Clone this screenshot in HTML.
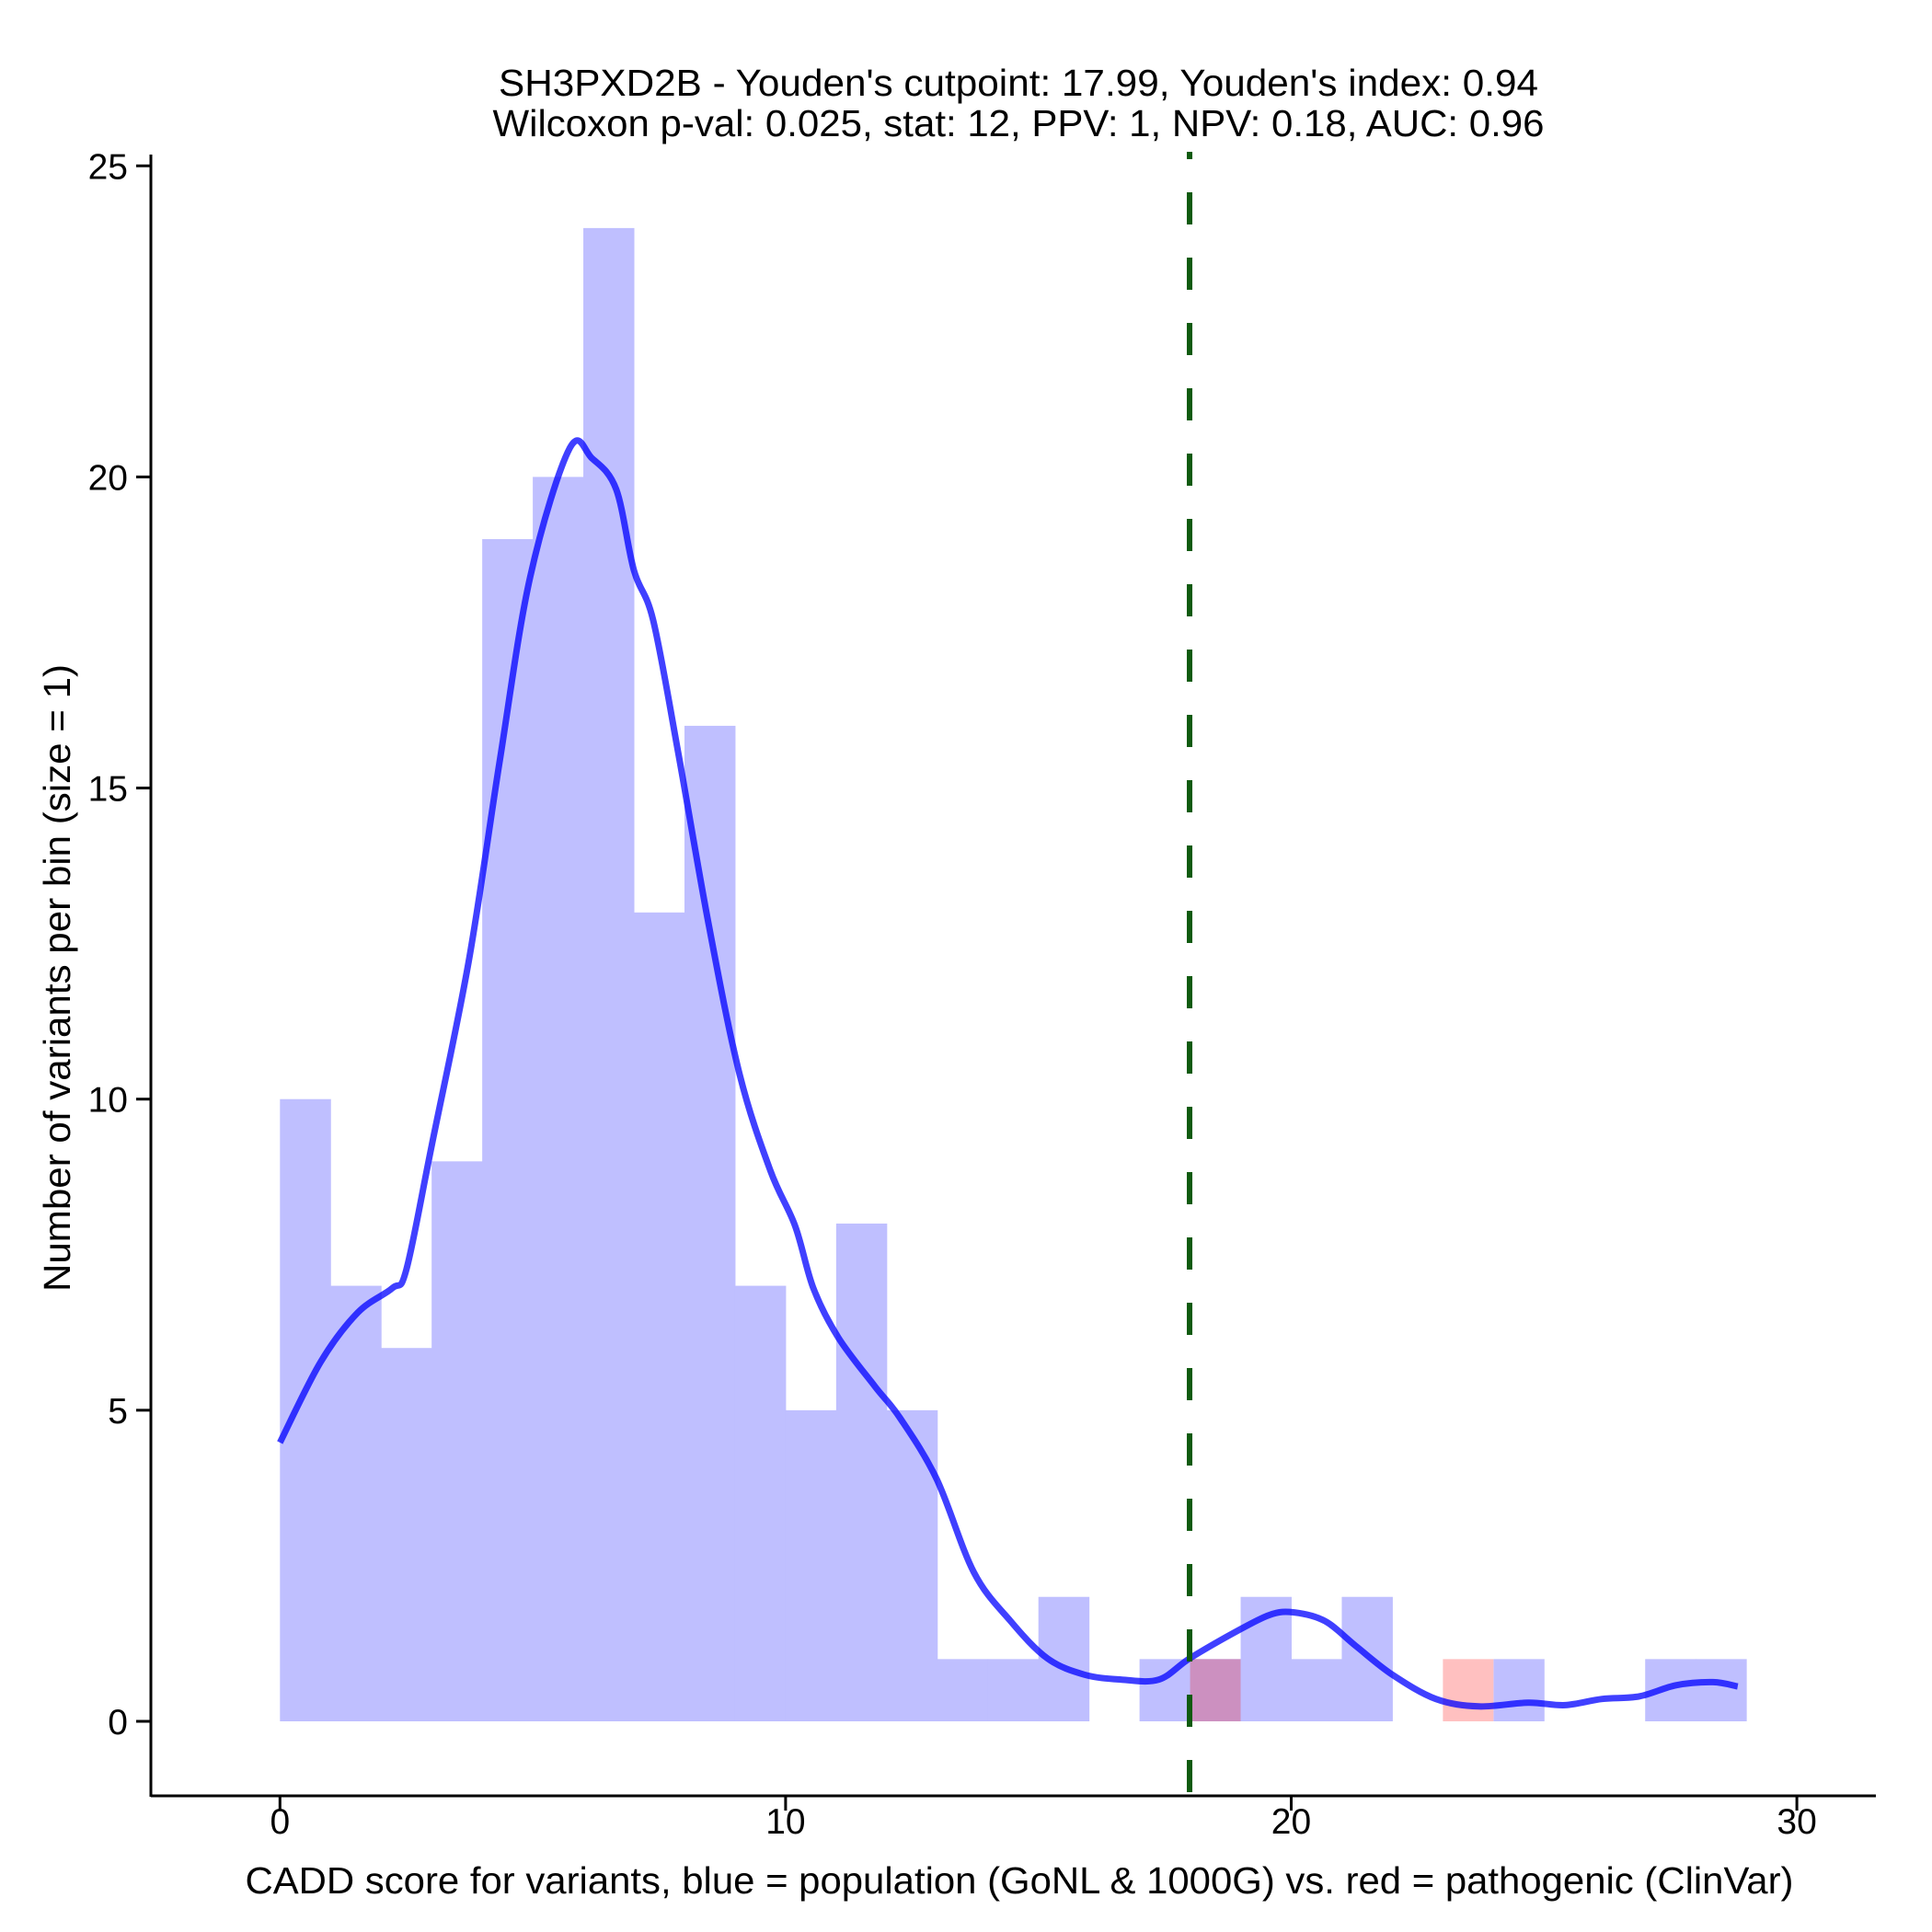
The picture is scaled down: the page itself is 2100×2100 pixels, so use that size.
<!DOCTYPE html>
<html><head><meta charset="utf-8"><style>
html,body{margin:0;padding:0;background:#fff;}
svg{display:block;font-family:"Liberation Sans",Arial,sans-serif;}
</style></head><body>
<svg id="chart" width="2100" height="2100" viewBox="0 0 2100 2100">
<g id="bars"></g>
<g id="redbars"></g>
<path id="curve" fill="none" stroke="rgba(0,0,255,0.75)" stroke-width="7" stroke-linejoin="round"/>
<line id="cut" stroke="#0f5a0f" stroke-width="6" stroke-dasharray="35 36"/>
<g id="axes"></g>
<text x="1107" y="104" text-anchor="middle" font-size="41" textLength="1130" lengthAdjust="spacingAndGlyphs">SH3PXD2B - Youden's cutpoint: 17.99, Youden's index: 0.94</text>
<text x="1107" y="148" text-anchor="middle" font-size="41" textLength="1143" lengthAdjust="spacingAndGlyphs">Wilcoxon p-val: 0.025, stat: 12, PPV: 1, NPV: 0.18, AUC: 0.96</text>
<text x="1108" y="2058" text-anchor="middle" font-size="41" textLength="1683" lengthAdjust="spacingAndGlyphs">CADD score for variants, blue = population (GoNL &amp; 1000G) vs. red = pathogenic (ClinVar)</text>
<text transform="translate(76,1063) rotate(-90)" text-anchor="middle" font-size="41" textLength="682" lengthAdjust="spacingAndGlyphs">Number of variants per bin (size = 1)</text>
</svg>
<script>
const blueCounts = [10,7,6,9,19,20,24,13,16,7,5,8,5,1,1,2,0,1,1,2,1,2,0,0,1,0,0,1,1];
const redBins = [18,23];
const redCounts = [1,1];
const densX = [0,0.8,1.54,2.22,2.5,3.0,3.73,4.34,4.95,5.73,6.17,6.65,7.0,7.38,7.87,8.48,9.09,9.7,10.19,10.55,11.04,11.77,12.26,12.99,13.72,14.45,15.18,15.91,16.65,17.38,17.99,18.84,19.57,20.06,20.67,21.28,22.0,22.86,23.71,24.69,25.42,26.15,26.88,27.61,28.34,28.83];
const densY = [4.48,5.77,6.57,6.96,7.26,9.25,12.2,15.4,18.4,20.46,20.3,19.8,18.5,17.7,15.6,12.8,10.4,8.85,7.96,6.96,6.17,5.38,4.88,3.89,2.4,1.61,1.01,0.75,0.67,0.67,1.01,1.41,1.71,1.75,1.61,1.21,0.75,0.36,0.24,0.3,0.26,0.36,0.4,0.58,0.63,0.56];
const cutpoint = 17.99;
const xTicks = [0,10,20,30];
const yTicks = [0,5,10,15,20,25];

const NS="http://www.w3.org/2000/svg";
const sx = v => 304.3 + v*54.96;
const sy = v => 1871 - v*67.63;
function mk(tag, attrs, parent){const e=document.createElementNS(NS,tag);for(const k in attrs)e.setAttribute(k,attrs[k]);parent.appendChild(e);return e;}

const bars=document.getElementById('bars');
blueCounts.forEach((c,i)=>{ if(!c) return;
  const r=mk('rect',{x:sx(i),y:sy(c),width:sx(i+1)-sx(i)+0.5,height:sy(0)-sy(c),fill:'#bfbfff'},bars);
  
  
});
const rb=document.getElementById('redbars');
redBins.forEach((b,i)=>{
  const blue = blueCounts[b]>0;
  const r=mk('rect',{x:sx(b),y:sy(redCounts[i]),width:sx(b+1)-sx(b),height:sy(0)-sy(redCounts[i]),fill:blue?'#cc90c0':'#ffc0c0'},rb);
  
  
});
const P=densX.map((x,i)=>[sx(x),sy(densY[i])]);
let d='M'+P[0][0].toFixed(1)+' '+P[0][1].toFixed(1);
for(let i=0;i<P.length-1;i++){
  const p0=P[Math.max(0,i-1)],p1=P[i],p2=P[i+1],p3=P[Math.min(P.length-1,i+2)];
  const c1=[p1[0]+(p2[0]-p0[0])/6,p1[1]+(p2[1]-p0[1])/6];
  const c2=[p2[0]-(p3[0]-p1[0])/6,p2[1]-(p3[1]-p1[1])/6];
  d+=`C${c1[0].toFixed(1)} ${c1[1].toFixed(1)} ${c2[0].toFixed(1)} ${c2[1].toFixed(1)} ${p2[0].toFixed(1)} ${p2[1].toFixed(1)}`;
}
document.getElementById('curve').setAttribute('d',d);
const cut=document.getElementById('cut');
cut.setAttribute('x1',sx(cutpoint));cut.setAttribute('x2',sx(cutpoint));
cut.setAttribute('y1',1952);cut.setAttribute('y2',165);
cut.setAttribute('stroke-dashoffset',-4);

const ax=document.getElementById('axes');
mk('line',{x1:164,y1:168,x2:164,y2:1953,stroke:'#000','stroke-width':3},ax);
mk('line',{x1:164,y1:1952,x2:2039,y2:1952,stroke:'#000','stroke-width':3},ax);
yTicks.forEach(t=>{
  mk('line',{x1:148,x2:164,y1:sy(t),y2:sy(t),stroke:'#000','stroke-width':3},ax);
  const tx=mk('text',{x:139,y:sy(t)+14,'text-anchor':'end','font-size':39},ax);
  tx.textContent=t;
  
  
});
xTicks.forEach(t=>{
  mk('line',{x1:sx(t),x2:sx(t),y1:1952,y2:1968,stroke:'#000','stroke-width':3},ax);
  const tx=mk('text',{x:sx(t),y:1993,'text-anchor':'middle','font-size':39},ax);
  tx.textContent=t;
  
  
});
</script>
</body></html>
